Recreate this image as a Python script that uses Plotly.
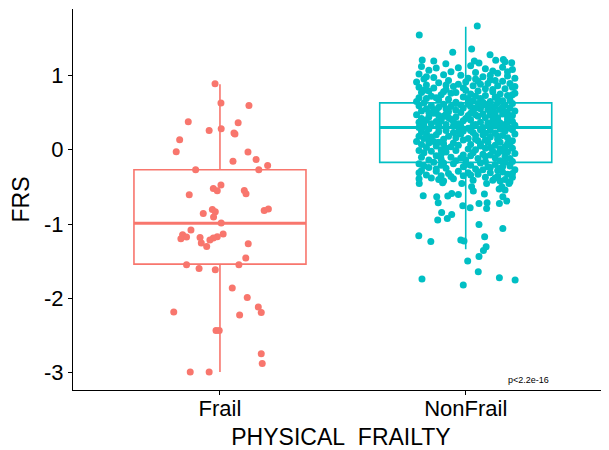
import plotly.graph_objects as go

# ---------------- data ----------------
categories = ["Frail", "NonFrail"]
colors = ["#F8766D", "#00BFC4"]

# box statistics
box_q1 = [-1.54, -0.17]
box_median = [-0.99, 0.30]
box_q3 = [-0.27, 0.63]
box_lower = [-2.99, -1.34]
box_upper = [0.88, 1.655]

# Frail group: FRS values and horizontal jitter offsets
frail_frs = [0.888, 0.629, 0.596, 0.377, 0.363, 0.260, 0.283, 0.225, 0.211, 0.135,
             -0.027, -0.031, -0.131, -0.157, -0.211, -0.269, -0.269, -0.475, -0.521, -0.552,
             -0.548, -0.592, -0.606, -0.803, -0.834, -0.857, -0.906, -0.817, -0.798, -0.987,
             -1.081, -1.144, -1.198, -1.175, -1.180, -1.135, -1.171, -1.188, -1.215, -1.256,
             -1.301, -1.265, -1.458, -1.548, -1.548, -1.598, -1.615, -1.861, -1.988, -2.117,
             -2.190, -2.184, -2.225, -2.432, -2.432, -2.746, -2.876, -2.992, -2.992]
frail_jitter = [-0.020, 0.004, 0.118, -0.129, 0.074, -0.044, 0.005, 0.057, 0.061, -0.164,
                -0.178, 0.114, 0.147, 0.053, 0.194, 0.158, -0.099, 0.004, -0.027, -0.011,
                0.099, 0.106, -0.125, -0.031, -0.019, -0.068, -0.026, 0.180, 0.197, 0.005,
                -0.118, -0.152, -0.159, -0.136, -0.081, 0.013, -0.011, -0.027, -0.041, -0.076,
                -0.054, 0.115, 0.105, 0.077, -0.136, -0.085, -0.019, 0.050, 0.111, 0.156,
                0.168, -0.188, 0.080, -0.016, -0.003, 0.168, 0.172, -0.121, -0.044]

# NonFrail group: (FRS, jitter) pairs
nonfrail_top = [(1.665, 0.047), (1.544, -0.189), (1.310, -0.053), (1.355, 0.024), (1.207, -0.177),
                (1.194, -0.130), (1.157, -0.081), (1.104, -0.030), (1.194, 0.035), (1.167, 0.054),
                (1.279, 0.099), (1.202, 0.122), (1.215, 0.153), (1.184, 0.160), (1.171, 0.187)]

nonfrail_upper = [
    (1.12, -0.18), (1.10, -0.12), (1.13, 0.02), (1.09, 0.08), (1.11, 0.15), (1.08, 0.19), (1.07, -0.15), (1.05, -0.06), (1.06, 0.11), (1.04, 0.04),
    (1.02, -0.19), (1.01, -0.09), (1.03, 0.13), (0.99, 0.17), (1.00, -0.02), (0.98, 0.07), (0.97, -0.13), (0.96, 0.20), (0.95, -0.17), (0.96, 0.01),
    (0.94, 0.10), (0.93, -0.07), (0.92, 0.15), (0.91, -0.20), (0.92, 0.05), (0.90, -0.11), (0.89, 0.18), (0.88, -0.03), (0.89, 0.09), (0.87, -0.16),
    (0.86, 0.13), (0.85, -0.05), (0.86, 0.03), (0.84, 0.19), (0.83, -0.13), (0.84, -0.19), (0.82, 0.08), (0.81, -0.08), (0.82, 0.16), (0.80, 0.00),
    (0.79, -0.15), (0.78, 0.11), (0.79, 0.05), (0.77, -0.04), (0.76, 0.20), (0.77, -0.18), (0.75, 0.14), (0.74, -0.10), (0.75, 0.02), (0.73, 0.08),
    (0.72, -0.14), (0.73, 0.17), (0.71, -0.01), (0.70, -0.19), (0.71, 0.12), (0.69, 0.06), (0.68, -0.07), (0.69, -0.16), (0.67, 0.18), (0.66, 0.03),
    (0.67, -0.11), (0.65, 0.10), (0.66, 0.15), (0.64, -0.04), (0.65, -0.20), (0.64, 0.07), (1.05, 0.17), (0.98, -0.16), (0.93, 0.12), (0.88, 0.06),
    (0.83, -0.01), (0.78, -0.09), (0.74, 0.19), (0.70, -0.12), (0.68, 0.13), (0.91, 0.00), (0.85, 0.20), (0.80, -0.17), (0.76, -0.06), (0.72, 0.04),
    (1.00, 0.10), (0.95, 0.04), (0.87, -0.08), (0.81, 0.11), (0.69, 0.01)]

nonfrail_midhigh = [
    (0.63, -0.17), (0.62, 0.05), (0.63, 0.13), (0.61, -0.09), (0.62, 0.19), (0.60, -0.02), (0.61, 0.09), (0.59, -0.14), (0.60, 0.16), (0.58, 0.02),
    (0.59, -0.19), (0.57, 0.11), (0.58, -0.06), (0.56, 0.18), (0.57, -0.11), (0.55, 0.06), (0.56, -0.01), (0.54, 0.14), (0.55, -0.16), (0.53, -0.04),
    (0.54, 0.09), (0.52, 0.20), (0.53, -0.12), (0.51, 0.03), (0.52, -0.18), (0.50, 0.12), (0.51, -0.07), (0.49, 0.17), (0.50, -0.02), (0.48, 0.07),
    (0.49, -0.13), (0.47, -0.20), (0.48, 0.15), (0.46, 0.01), (0.47, 0.10), (0.45, -0.09), (0.46, 0.19), (0.44, -0.15), (0.45, 0.05), (0.43, 0.13),
    (0.44, -0.04), (0.42, -0.18), (0.43, 0.08), (0.41, 0.17), (0.42, -0.10), (0.40, 0.02), (0.41, -0.06), (0.39, 0.11), (0.40, -0.16), (0.38, 0.19),
    (0.39, -0.01), (0.37, 0.06), (0.38, -0.12), (0.36, 0.14), (0.37, -0.19), (0.35, -0.03), (0.36, 0.09), (0.34, 0.16), (0.35, -0.14), (0.33, 0.03),
    (0.34, -0.08), (0.32, 0.12), (0.33, 0.20), (0.31, -0.17), (0.32, -0.05), (0.30, 0.07), (0.31, 0.15), (0.30, -0.11), (0.29, 0.01), (0.29, 0.18),
    (0.62, -0.04), (0.60, 0.07), (0.57, 0.15), (0.55, -0.08), (0.52, 0.10), (0.50, -0.15), (0.47, 0.04), (0.45, 0.17), (0.43, -0.07), (0.40, 0.13),
    (0.38, -0.05), (0.36, -0.17), (0.34, 0.04), (0.31, 0.10), (0.30, -0.19), (0.58, 0.12), (0.54, -0.13), (0.49, 0.02), (0.44, 0.11), (0.39, -0.10),
    (0.35, 0.12), (0.33, -0.11), (0.61, 0.01), (0.56, 0.04), (0.51, 0.16), (0.46, -0.11), (0.42, 0.00), (0.37, 0.17), (0.32, -0.02), (0.48, -0.08)]

nonfrail_midlow = [
    (0.28, -0.15), (0.27, 0.06), (0.28, 0.14), (0.26, -0.08), (0.27, 0.19), (0.25, -0.01), (0.26, 0.10), (0.24, -0.18), (0.25, 0.16), (0.23, 0.03),
    (0.24, -0.11), (0.22, 0.12), (0.23, -0.05), (0.21, 0.20), (0.22, -0.16), (0.20, 0.07), (0.21, -0.02), (0.19, 0.15), (0.20, -0.12), (0.18, -0.19),
    (0.19, 0.04), (0.17, 0.10), (0.18, -0.07), (0.16, 0.17), (0.17, -0.14), (0.15, 0.01), (0.16, -0.04), (0.14, 0.13), (0.15, -0.17), (0.13, 0.08),
    (0.14, -0.09), (0.12, 0.19), (0.13, -0.01), (0.11, -0.13), (0.12, 0.05), (0.10, 0.14), (0.11, -0.20), (0.09, -0.05), (0.10, 0.09), (0.08, 0.17),
    (0.09, -0.15), (0.07, 0.02), (0.08, -0.09), (0.06, 0.12), (0.07, -0.18), (0.05, 0.06), (0.06, -0.03), (0.04, 0.16), (0.05, -0.12), (0.03, 0.10),
    (0.04, -0.06), (0.02, 0.19), (0.03, -0.16), (0.01, 0.01), (0.02, 0.08), (0.00, -0.10), (0.01, 0.14), (-0.01, -0.19), (0.00, 0.04), (-0.02, 0.11),
    (-0.01, -0.04), (-0.03, 0.17), (-0.02, -0.14), (-0.04, 0.03), (-0.03, -0.08), (-0.05, 0.13), (-0.04, -0.17), (-0.06, 0.07), (-0.05, 0.20), (-0.07, -0.01),
    (-0.08, -0.12), (-0.07, 0.10), (-0.09, 0.16), (-0.08, 0.02), (-0.10, -0.06), (-0.11, 0.12), (-0.10, -0.18), (-0.12, 0.05), (-0.13, -0.10), (-0.12, 0.18),
    (-0.14, 0.00), (-0.15, 0.14), (-0.14, -0.15), (-0.16, 0.08), (-0.15, -0.04), (-0.16, 0.19), (0.26, 0.02), (0.22, 0.08), (0.18, 0.13), (0.14, 0.04),
    (0.10, -0.11), (0.06, 0.18), (0.02, -0.08), (-0.02, 0.15), (-0.06, -0.10), (-0.11, -0.02), (0.24, -0.03), (0.16, -0.16), (0.08, 0.06), (-0.09, 0.08)]

nonfrail_lower = [
    (-0.17, -0.13), (-0.18, 0.06), (-0.17, 0.16), (-0.19, -0.05), (-0.20, 0.12), (-0.19, -0.19), (-0.21, 0.02), (-0.22, 0.18), (-0.21, -0.10), (-0.23, 0.09),
    (-0.24, -0.15), (-0.23, -0.01), (-0.25, 0.14), (-0.26, 0.04), (-0.25, -0.08), (-0.27, 0.20), (-0.28, -0.18), (-0.27, 0.07), (-0.29, -0.03), (-0.30, 0.15),
    (-0.29, -0.12), (-0.31, 0.10), (-0.32, -0.07), (-0.31, 0.01), (-0.33, 0.17), (-0.34, -0.16), (-0.33, 0.05), (-0.35, -0.10), (-0.36, 0.13), (-0.35, -0.01),
    (-0.37, 0.19), (-0.38, -0.14), (-0.37, 0.08), (-0.39, -0.05), (-0.40, 0.16), (-0.39, -0.19), (-0.41, 0.03), (-0.42, -0.09), (-0.41, 0.11), (-0.43, 0.18),
    (-0.18, -0.09), (-0.22, -0.17), (-0.24, 0.10), (-0.26, -0.12), (-0.30, 0.05), (-0.32, 0.19), (-0.36, -0.06), (-0.38, 0.12), (-0.20, 0.00), (-0.28, 0.13),
    (-0.34, 0.02), (-0.40, -0.11), (-0.42, 0.14), (-0.23, 0.15), (-0.31, -0.19)]

nonfrail_bottom = [
    (-0.454, -0.189), (-0.444, -0.094), (-0.454, -0.016), (-0.498, 0.024), (-0.556, 0.031), (-0.454, 0.085),
    (-0.498, 0.147), (-0.542, 0.160), (-0.529, 0.136), (-0.454, 0.176), (-0.619, -0.173), (-0.633, -0.118),
    (-0.713, -0.112), (-0.623, -0.073), (-0.588, -0.057), (-0.602, -0.030), (-0.596, 0.076), (-0.633, 0.151),
    (-0.754, -0.012), (-0.781, 0.018), (-0.723, 0.054), (-0.713, 0.087), (-0.790, 0.085), (-0.723, 0.137),
    (-0.690, 0.167), (-0.844, -0.098), (-0.871, -0.057), (-0.946, -0.114), (-0.925, -0.075), (-1.005, 0.054),
    (-1.059, 0.151), (-1.157, -0.191), (-1.234, -0.142), (-1.215, -0.020), (-1.229, -0.007), (-1.171, 0.077),
    (-1.306, 0.083), (-1.355, 0.072), (-1.436, 0.054), (-1.498, 0.008), (-1.642, 0.051), (-1.740, -0.178),
    (-1.723, 0.137), (-1.754, 0.201), (-1.821, -0.010)]

y_ticks = [-3, -2, -1, 0, 1]
p_label = "p<2.2e-16"

# ---------------- figure ----------------
nonfrail_pts = nonfrail_top + nonfrail_upper + nonfrail_midhigh + nonfrail_midlow + nonfrail_lower + nonfrail_bottom
nonfrail_frs = [p[0] for p in nonfrail_pts]
nonfrail_jitter = [p[1] for p in nonfrail_pts]

groups_frs = [frail_frs, nonfrail_frs]
groups_jit = [frail_jitter, nonfrail_jitter]

BOX_W = 0.7
FONT = "Liberation Sans, Arial, sans-serif"

fig = go.Figure()
for i, cat in enumerate(categories):
    col = colors[i]
    fig.add_trace(go.Box(
        x=[i], q1=[box_q1[i]], median=[box_median[i]], q3=[box_q3[i]],
        lowerfence=[box_lower[i]], upperfence=[box_upper[i]],
        width=BOX_W, whiskerwidth=0, boxpoints=False,
        fillcolor="rgba(255,255,255,0)", line=dict(color=col, width=1.6),
        showlegend=False, hoverinfo="skip", name=cat))
    fig.add_trace(go.Scatter(
        x=[i - BOX_W / 2, i + BOX_W / 2], y=[box_median[i], box_median[i]],
        mode="lines", line=dict(color=col, width=3), showlegend=False, hoverinfo="skip"))
    fig.add_trace(go.Scatter(
        x=[i + j for j in groups_jit[i]], y=groups_frs[i], mode="markers",
        marker=dict(color=col, size=7, line=dict(width=0)), showlegend=False, name=cat))

fig.add_annotation(x=1.254, y=-3.095, xref="x", yref="y", text=p_label, showarrow=False,
                   font=dict(family=FONT, size=9, color="black"), xanchor="center", yanchor="middle")

# the page body has an 8px default margin, so the figure is sized to fit the window
fig.update_layout(
    width=601, height=442,
    margin=dict(l=65, r=0, t=1, b=60),
    paper_bgcolor="white", plot_bgcolor="white",
    font=dict(family=FONT, color="black"),
    showlegend=False,
    xaxis=dict(
        range=[-0.598, 1.583], tickvals=[0, 1], ticktext=categories,
        showline=True, linecolor="black", linewidth=1.1, ticks="outside", ticklen=4,
        tickcolor="black", tickwidth=1.1, showgrid=False, zeroline=False,
        ticklabelstandoff=-5,
        tickfont=dict(family=FONT, size=22, color="black"),
        title=dict(text="PHYSICAL\u00a0 FRAILTY", font=dict(family=FONT, size=23, color="black"), standoff=8),
        automargin=False),
    yaxis=dict(
        range=[-3.233, 1.893], tickvals=y_ticks, ticktext=[str(v) for v in y_ticks],
        showline=True, linecolor="black", linewidth=1.1, ticks="outside", ticklen=4,
        tickcolor="black", tickwidth=1.1, showgrid=False, zeroline=False,
        tickfont=dict(family=FONT, size=22, color="black"),
        title=dict(text="FRS", font=dict(family=FONT, size=23, color="black"), standoff=12),
        automargin=False),
)

fig.write_html("out.html")
